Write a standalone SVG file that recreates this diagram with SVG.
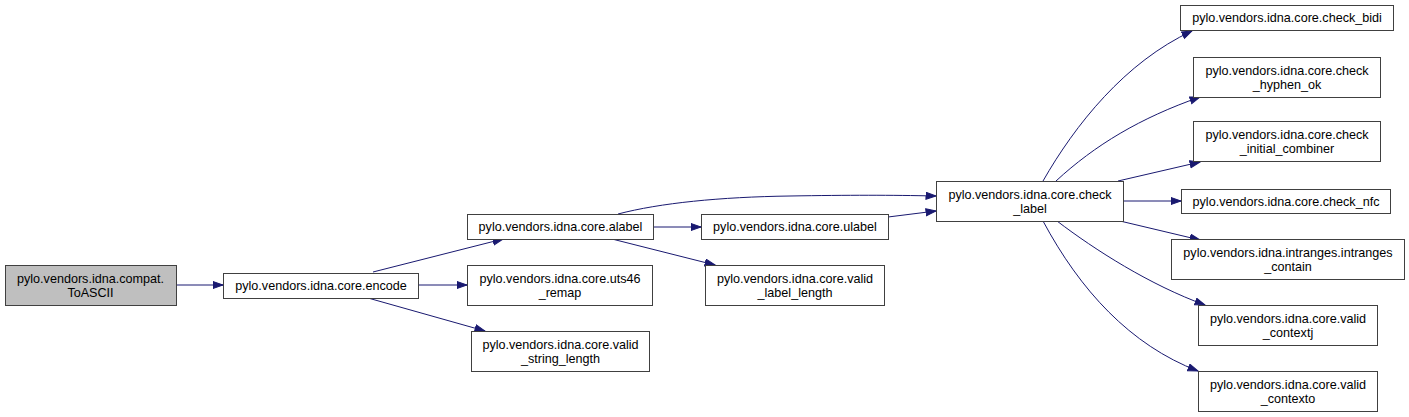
<svg xmlns="http://www.w3.org/2000/svg" width="1409" height="417" viewBox="0 0 1409 417">
<style>
.node rect{fill:#ffffff;stroke:#404040;stroke-width:1}
.node.root rect{fill:#bfbfbf}
.node text{font-family:"Liberation Sans",Arial,sans-serif;font-size:12.6px;fill:#000;text-anchor:middle}
.edges path{fill:none;stroke:#191970;stroke-width:1;marker-end:url(#arr)}
</style>
<defs>
<marker id="arr" markerUnits="userSpaceOnUse" markerWidth="12" markerHeight="9" refX="10.5" refY="4" orient="auto">
<path d="M0.5,0.5 L10.5,4 L0.5,7.5 z" fill="#191970" stroke="#191970" stroke-width="1"/>
</marker>
</defs>
<rect width="1409" height="417" fill="#ffffff"/>
<g class="edges">
<path d="M176,285 L223,285"/>
<path d="M373,272 L503,239"/>
<path d="M418,285 L467,285"/>
<path d="M368,298 L485,331"/>
<path d="M653,227 L701,227"/>
<path d="M618,214 C660,203 720,197 790,196 C850,195 890,195 936,196"/>
<path d="M888,217 L936,211"/>
<path d="M612,239 L715,265"/>
<path d="M1043,181 C1075,125 1125,62 1192,31"/>
<path d="M1056,181 C1095,145 1140,118 1200,97"/>
<path d="M1118,181 L1200,162"/>
<path d="M1123,201 L1181,201"/>
<path d="M1120,221 L1200,240"/>
<path d="M1057,221 C1095,250 1150,285 1205,305"/>
<path d="M1043,221 C1080,290 1130,345 1198,371"/>
</g>
<g id="n_toascii" class="node root"><rect x="5.5" y="265.5" width="171" height="40"/><text x="90.5" y="282.5">pylo.vendors.idna.compat.</text><text x="90.5" y="296.5">ToASCII</text></g>
<g id="n_encode" class="node"><rect x="223.5" y="273.5" width="195" height="25"/><text x="321" y="290">pylo.vendors.idna.core.encode</text></g>
<g id="n_alabel" class="node"><rect x="467.5" y="214.5" width="186" height="25"/><text x="560.5" y="231">pylo.vendors.idna.core.alabel</text></g>
<g id="n_uts46" class="node"><rect x="467.5" y="265.5" width="185" height="40"/><text x="560" y="282.5">pylo.vendors.idna.core.uts46</text><text x="560" y="296.5">_remap</text></g>
<g id="n_vsl" class="node"><rect x="471.5" y="331.5" width="178" height="40"/><text x="560.5" y="348.5">pylo.vendors.idna.core.valid</text><text x="560.5" y="362.5">_string_length</text></g>
<g id="n_ulabel" class="node"><rect x="701.5" y="214.5" width="187" height="25"/><text x="795" y="231">pylo.vendors.idna.core.ulabel</text></g>
<g id="n_vll" class="node"><rect x="705.5" y="265.5" width="179" height="40"/><text x="795" y="282.5">pylo.vendors.idna.core.valid</text><text x="795" y="296.5">_label_length</text></g>
<g id="n_check_label" class="node"><rect x="936.5" y="181.5" width="187" height="40"/><text x="1030" y="198.5">pylo.vendors.idna.core.check</text><text x="1030" y="212.5">_label</text></g>
<g id="n_bidi" class="node"><rect x="1180.5" y="5.5" width="213" height="25"/><text x="1287" y="22">pylo.vendors.idna.core.check_bidi</text></g>
<g id="n_hyphen" class="node"><rect x="1193.5" y="57.5" width="187" height="40"/><text x="1287" y="74.5">pylo.vendors.idna.core.check</text><text x="1287" y="88.5">_hyphen_ok</text></g>
<g id="n_combiner" class="node"><rect x="1193.5" y="121.5" width="187" height="40"/><text x="1287" y="138.5">pylo.vendors.idna.core.check</text><text x="1287" y="152.5">_initial_combiner</text></g>
<g id="n_nfc" class="node"><rect x="1181.5" y="189.5" width="209" height="24"/><text x="1286" y="205.5">pylo.vendors.idna.core.check_nfc</text></g>
<g id="n_intranges" class="node"><rect x="1171.5" y="239.5" width="233" height="40"/><text x="1288" y="256.5">pylo.vendors.idna.intranges.intranges</text><text x="1288" y="270.5">_contain</text></g>
<g id="n_contextj" class="node"><rect x="1198.5" y="305.5" width="179" height="40"/><text x="1288" y="322.5">pylo.vendors.idna.core.valid</text><text x="1288" y="336.5">_contextj</text></g>
<g id="n_contexto" class="node"><rect x="1198.5" y="371.5" width="179" height="40"/><text x="1288" y="388.5">pylo.vendors.idna.core.valid</text><text x="1288" y="402.5">_contexto</text></g>
</svg>
